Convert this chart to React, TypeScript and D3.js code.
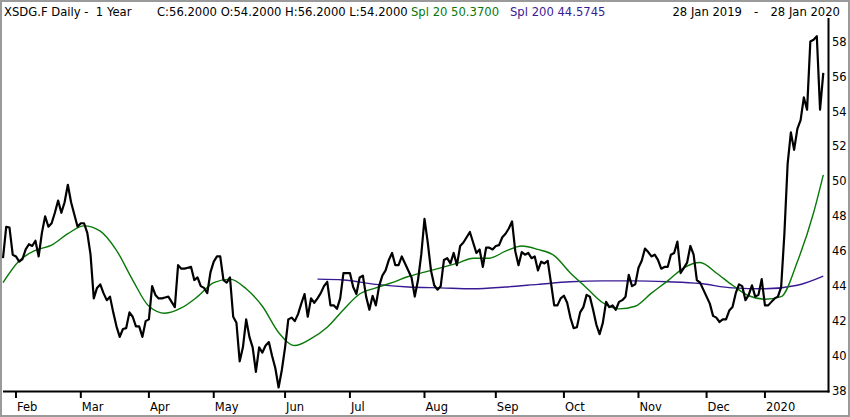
import React from 'react';
import * as d3 from 'd3';

// ---- data ----
const START = '2019-01-28';
const END = '2020-01-28';
const HOLIDAYS = ['2019-04-19', '2019-04-22', '2019-05-01', '2019-12-24', '2019-12-25', '2019-12-26', '2019-12-31', '2020-01-01'];

const CLOSE = [
  45.6, 47.4, 47.35, 45.8, 45.7, 45.4, 45.55, 46.1, 46.4, 46.3,
  46.6, 45.7, 47.05, 48.0, 47.4, 47.6, 48.2, 48.9, 48.2, 48.8,
  49.8, 48.8, 48.1, 47.4, 47.6, 47.6, 47.05, 45.8, 43.3, 43.9,
  44.1, 43.6, 43.2, 43.4, 42.5, 41.7, 41.1, 41.55, 41.6, 42.5,
  42.25, 41.7, 41.7, 41.1, 42.0, 42.1, 44.0, 43.5, 43.3, 43.3,
  43.35, 43.4, 43.1, 42.8, 45.2, 45.0, 45.0, 45.05, 45.1, 44.35,
  44.5, 44.0, 43.9, 43.6, 44.8, 45.4, 45.7, 45.7, 44.35, 44.2,
  44.5, 42.25, 41.9, 39.7, 40.5, 42.1, 41.1, 40.5, 39.1, 40.5,
  40.2, 40.6, 40.8, 40.0, 39.3, 38.2, 39.2, 40.5, 42.1, 42.2,
  42.0, 42.4, 43.0, 43.55, 42.25, 43.3, 43.05, 43.3, 43.6, 44.0,
  44.25, 42.9, 42.9, 42.7, 43.3, 44.75, 44.75, 44.75, 43.95, 43.55,
  44.5, 44.6, 43.4, 42.65, 43.45, 42.9, 44.0, 44.6, 44.9, 45.5,
  45.9, 45.2, 45.2, 45.7, 45.3, 44.9, 44.5, 43.4, 44.35, 45.8,
  47.85, 46.5, 44.9, 44.05, 43.8, 44.0, 45.5, 45.6, 45.3, 45.9,
  45.2, 46.3, 46.5, 46.8, 47.1, 46.5, 45.9, 46.1, 45.1, 46.2,
  46.2, 46.1, 46.3, 46.35, 46.8, 47.0, 47.3, 47.7, 46.0, 45.2,
  45.95, 45.8, 45.9, 45.6, 45.7, 44.9, 45.4, 45.3, 45.45, 44.2,
  42.9, 42.9, 43.3, 43.45, 43.05, 42.2, 41.6, 41.65, 42.5, 42.8,
  43.5, 43.4, 42.65, 41.8, 41.25, 41.9, 43.1, 42.8, 42.9, 42.65,
  43.1, 43.2, 43.4, 44.65, 44.0, 44.1, 45.05, 45.45, 46.15, 45.95,
  45.7, 45.8, 45.5, 45.0, 45.1, 45.1, 45.8, 45.9, 46.55, 44.75,
  45.05, 45.35, 46.3, 45.8, 44.35, 44.2, 43.8, 43.4, 43.0, 42.3,
  42.2, 41.95, 42.1, 42.1, 42.6, 42.8, 43.6, 44.1, 44.0, 43.2,
  43.5, 44.05, 43.4, 43.5, 44.4, 42.9, 42.9, 43.1, 43.3, 43.4,
  43.95, 47.0, 51.0, 52.8, 51.8, 53.0, 53.5, 54.8, 54.1, 58.0,
  58.1, 58.3, 54.1, 56.2,
];

// trading-day index of each SMA reading
const SMA20_DAYS = [0, 5, 10, 15, 20, 25, 30, 35, 40, 45, 50, 55, 60, 65, 70, 75, 80, 85, 90, 95, 100, 105, 110, 115, 120, 125, 130, 135, 140, 145, 150, 155, 160, 165, 170, 175, 180, 185, 190, 195, 200, 205, 210, 215, 220, 225, 230, 235, 240, 245, 250, 253];
const SMA20 = [44.2, 45.45, 46.05, 46.35, 47.0, 47.45, 47.15, 46.05, 44.35, 42.85, 42.45, 42.75, 43.4, 44.2, 44.4, 43.85, 42.85, 41.35, 40.6, 41.0, 41.65, 42.65, 43.55, 43.9, 44.2, 44.55, 44.8, 45.05, 45.3, 45.6, 45.6, 46.0, 46.3, 46.1, 45.75, 44.75, 43.9, 43.05, 42.7, 42.85, 43.6, 44.3, 45.05, 45.35, 44.75, 44.05, 43.45, 43.25, 43.4, 45.4, 48.2, 50.37];

const SMA200_DAYS = [97, 105, 115, 125, 135, 145, 155, 165, 175, 185, 195, 205, 215, 225, 235, 245, 253];
const SMA200 = [44.4, 44.35, 44.1, 43.95, 43.9, 43.85, 43.95, 44.1, 44.25, 44.3, 44.3, 44.25, 44.15, 43.9, 43.85, 44.05, 44.5745];

const Y_TICKS = [38, 40, 42, 44, 46, 48, 50, 52, 54, 56, 58];
const MONTH_LABELS = ['Feb', 'Mar', 'Apr', 'May', 'Jun', 'Jul', 'Aug', 'Sep', 'Oct', 'Nov', 'Dec', '2020'];

const HEADER_MAIN = 'XSDG.F Daily -  1 Year';
const HEADER_OHLC = 'C:56.2000 O:54.2000 H:56.2000 L:54.2000';
const HEADER_SMA20 = 'Spl 20 50.3700';
const HEADER_SMA200 = 'Spl 200 44.5745';
const DATE_FROM = '28 Jan 2019';
const DATE_TO = '28 Jan 2020';

// ---- helpers ----
function tradingDays(): Date[] {
  const parse = d3.utcParse('%Y-%m-%d');
  const fmt = d3.utcFormat('%Y-%m-%d');
  const hol = new Set(HOLIDAYS);
  return d3.utcDay
    .range(parse(START) as Date, d3.utcDay.offset(parse(END) as Date, 1))
    .filter((d) => d.getUTCDay() !== 0 && d.getUTCDay() !== 6 && !hol.has(fmt(d)));
}

const GREEN = '#087808';
const PURPLE = '#3a1a94';
const FONT = '"DejaVu Sans", Verdana, sans-serif';

export default function App() {
  const W = 850;
  const H = 417;
  const left = 3;
  const axisX = 828.5;
  const top = 18;
  const bottom = 391.5;

  const days = tradingDays();
  const n = CLOSE.length;
  const x = d3.scaleLinear().domain([0, n - 1]).range([left, 823.3]);
  const y = d3.scaleLinear().domain([38, 58]).range([391, 41.5]);

  // month starts
  const monthStarts: number[] = [];
  days.forEach((d, i) => {
    if (i > 0 && d.getUTCMonth() !== days[i - 1].getUTCMonth()) monthStarts.push(i);
  });

  const priceLine = d3
    .line<number>()
    .x((_, i) => x(i))
    .y((v) => y(v));
  const smaLine = d3
    .line<[number, number]>()
    .x((p) => x(p[0]))
    .y((p) => y(p[1]))
    .curve(d3.curveMonotoneX);

  const sma20Pts: [number, number][] = SMA20_DAYS.map((d, i) => [d, SMA20[i]]);
  const sma200Pts: [number, number][] = SMA200_DAYS.map((d, i) => [d, SMA200[i]]);

  return (
    <svg
      width={W}
      height={H}
      style={{ position: 'absolute', left: 0, top: 0, background: '#fff' }}
      fontFamily={FONT}
    >
      <rect x={0} y={0} width={W} height={H} fill="#fff" />
      {/* header */}
      <g fontSize={11.6} fill="#000">
        <text x={4} y={16} xmlSpace="preserve" style={{ whiteSpace: 'pre' }}>{HEADER_MAIN}</text>
        <text x={157} y={16}>{HEADER_OHLC}</text>
        <text x={411} y={16} fill={GREEN}>{HEADER_SMA20}</text>
        <text x={510} y={16} fill={PURPLE}>{HEADER_SMA200}</text>
        <text x={742} y={16} textAnchor="end">{DATE_FROM}</text>
        <text x={756} y={16} textAnchor="middle">-</text>
        <text x={840} y={16} textAnchor="end">{DATE_TO}</text>
      </g>

      {/* series */}
      <path d={smaLine(sma200Pts) || ''} fill="none" stroke={PURPLE} strokeWidth={1.4} />
      <path d={smaLine(sma20Pts) || ''} fill="none" stroke={GREEN} strokeWidth={1.4} />
      <path d={priceLine(CLOSE) || ''} fill="none" stroke="#000" strokeWidth={2.2} strokeLinejoin="round" />

      {/* axes */}
      <line x1={left} x2={axisX + 1} y1={bottom} y2={bottom} stroke="#000" strokeWidth={2} />
      <line x1={axisX} x2={axisX} y1={top} y2={bottom + 1} stroke="#000" strokeWidth={2} />
      <g fontSize={11.5} fill="#000">
        {Y_TICKS.map((t) => (
          <text key={t} x={832} y={y(t)} dy="0.36em">{t}</text>
        ))}
        {monthStarts.map((idx, k) => (
          <g key={idx}>
            <line x1={x(idx)} x2={x(idx)} y1={bottom} y2={398} stroke="#000" strokeWidth={2} />
            <text x={x(idx) + 1} y={410.5}>{MONTH_LABELS[k]}</text>
          </g>
        ))}
      </g>

      {/* frame */}
      <rect x={1} y={1} width={W - 2} height={H - 2} fill="none" stroke="#9a9a9a" strokeWidth={2} />
    </svg>
  );
}
